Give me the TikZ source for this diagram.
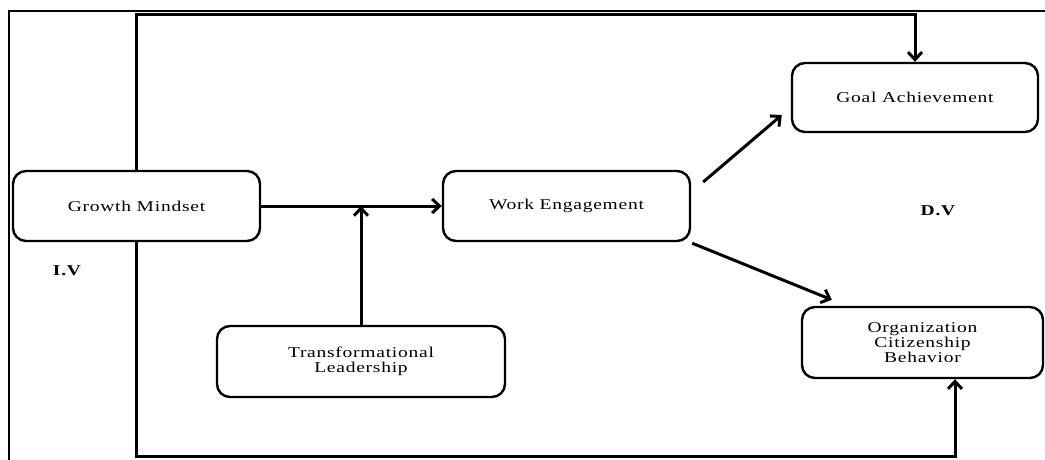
\documentclass[tikz,border=0pt]{standalone}
\usepackage{fontspec}
\setmainfont{Liberation Serif}[FakeStretch=1.3,LetterSpace=5]
\usetikzlibrary{arrows.meta,calc}
\begin{document}
\begin{tikzpicture}[x=1pt,y=-1pt,
  box/.style={draw,line width=2.4pt,rounded corners=13pt,fill=white,align=center,
    inner sep=0pt,font=\fontsize{15}{14.8}\selectfont},
  conn/.style={line width=3pt},
  arr/.style={conn,-{Straight Barb[length=7.5pt,width=14pt]}},
  lab/.style={font=\fontsize{15}{16}\selectfont\bfseries}]
\useasboundingbox (0,0) rectangle (1045,460);
\draw[line width=1.8pt] (9,460) -- (9,11) -- (1045,11);
\node[box,minimum width=247pt,minimum height=70pt] (gm) at (136.5,206) {Growth Mindset};
\node[box,minimum width=247pt,minimum height=70pt] (we) at (566.5,206) {Work Engagement};
\node[box,minimum width=288pt,minimum height=71pt] (tl) at (361,361.5) {Transformational\\Leadership};
\node[box,minimum width=246pt,minimum height=69pt] (ga) at (915,97.5) {Goal Achievement};
\node[box,minimum width=241pt,minimum height=71pt] (ocb) at (922.5,342.5) {Organization\\Citizenship\\Behavior};
\node[lab] (iv) at (67,271) {I.V};
\node[lab] (dv) at (938,211) {D.V};
\coordinate (j) at (361,206);
\coordinate (tr) at (915,15);
\coordinate (tlc) at (136,15);
\coordinate (blc) at (136,456);
\coordinate (brc) at (955,456);
\draw[arr] (gm.east) -- (we.west);
\draw[arr] (tl.north) -- (j);
\draw[arr] (gm.north -| tlc) -- (tlc) -- (tr) -- (ga.north -| tr);
\draw[arr] (gm.south -| blc) -- (blc) -- (brc) -- (ocb.south -| brc);
\draw[arr] ($(we.east)+(12,-24)$) -- ($(ga.west)+(-9,17.5)$);
\draw[arr] ($(we.south east)+(1,1)$) -- ($(ocb.north west)+(31,-6)$);
\end{tikzpicture}
\end{document}
